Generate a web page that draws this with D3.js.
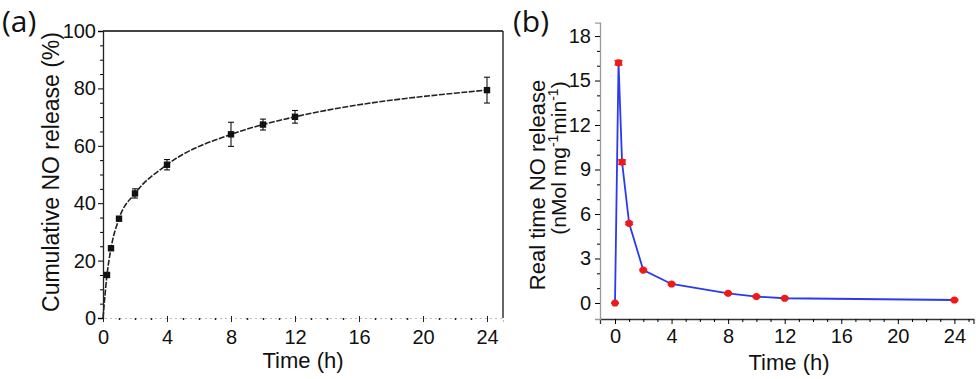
<!DOCTYPE html>
<html>
<head>
<meta charset="utf-8">
<script src="https://cdn.jsdelivr.net/npm/d3@7"></script>
<style>
  body { margin: 0; background: #fff; }
  svg { display: block; }
  text { font-family: "Liberation Sans", Arial, sans-serif; fill: #111; }
  .panel-tag { font-family: "Open Sans", "Noto Sans", sans-serif; font-size: 30px; }
</style>
</head>
<body>
<svg id="chart" width="979" height="379"></svg>
<script>
// panel (a): cumulative release
const timeA = [0, 0.25, 0.5, 1, 2, 4, 8, 10, 12, 24];
const cumRelease = [0, 15, 24.3, 34.6, 43.4, 53.4, 64, 67.4, 70.1, 79.4];
const cumErr = [0, 0.5, 0.5, 0.6, 1.6, 1.8, 4.2, 1.9, 2.2, 4.5];
const ticksA_y = [0, 20, 40, 60, 80, 100];
const ticksA_x = [0, 4, 8, 12, 16, 20, 24];

// panel (b): real time release
const timeB = [0, 0.25, 0.5, 1, 2, 4, 8, 10, 12, 24];
const rtRelease = [0, 16.2, 9.5, 5.37, 2.22, 1.28, 0.65, 0.43, 0.32, 0.2];
const rtErr = [0, 0.15, 0.15, 0.08, 0.05, 0.05, 0.05, 0.05, 0.05, 0.05];
const ticksB_y = [0, 3, 6, 9, 12, 15, 18];
const ticksB_x = [0, 4, 8, 12, 16, 20, 24];

const svg = d3.select("#chart");

// ---------- panel (a) ----------
const xa = d3.scaleLinear().domain([0, 25]).range([103, 503]);
const ya = d3.scaleLinear().domain([0, 100]).range([318, 31]);

const ga = svg.append("g");

// frame top and right
ga.append("line").attr("x1", xa(0)).attr("x2", xa(25)).attr("y1", ya(100)).attr("y2", ya(100))
  .attr("stroke", "#444").attr("stroke-width", 2);
ga.append("line").attr("x1", xa(25)).attr("x2", xa(25)).attr("y1", ya(100)).attr("y2", ya(0))
  .attr("stroke", "#333").attr("stroke-width", 1.5);

// bottom axis (light dotted)
const xAxisA = ga.append("g").attr("transform", `translate(0,${ya(0)})`)
  .call(d3.axisBottom(xa).tickValues(ticksA_x).tickSize(4).tickPadding(8));
xAxisA.select(".domain").attr("stroke", "#bbb").attr("stroke-dasharray", "2,3");
xAxisA.selectAll(".tick line").attr("stroke", "#222").attr("y1", -2);
xAxisA.selectAll("text").style("font-size", "20px").attr("fill", "#111");
const xMinorA = ga.append("g").attr("transform", `translate(0,${ya(0)})`)
  .call(d3.axisBottom(xa).tickValues(d3.range(1, 25).filter(d => d % 4)).tickSize(2).tickFormat(""));
xMinorA.select(".domain").remove();
xMinorA.selectAll(".tick line").attr("stroke", "#222").attr("stroke-width", 1.5);

// left axis
const yAxisA = ga.append("g").attr("transform", `translate(${xa(0)},0)`)
  .call(d3.axisLeft(ya).tickValues(ticksA_y).tickSize(5).tickPadding(2));
yAxisA.select(".domain").attr("stroke", "#222").attr("stroke-width", 1.3);
yAxisA.selectAll("text").style("font-size", "20px").attr("fill", "#111");
const yMinorA = ga.append("g").attr("transform", `translate(${xa(0)},0)`)
  .call(d3.axisLeft(ya).tickValues(d3.range(5, 100, 5).filter(d => d % 20)).tickSize(3).tickFormat(""));
yMinorA.select(".domain").remove();

// curve
const lineA = d3.line().x(d => xa(d[0])).y(d => ya(d[1])).curve(d3.curveMonotoneX);
ga.append("path").datum(timeA.map((t, i) => [t, cumRelease[i]]))
  .attr("d", lineA).attr("fill", "none").attr("stroke", "#222")
  .attr("stroke-width", 1.6).attr("stroke-dasharray", "6,1.5");

// error bars + markers (skip origin)
const ptsA = timeA.map((t, i) => ({ t, v: cumRelease[i], e: cumErr[i] })).filter(d => d.t > 0);
const eb = ga.append("g").attr("stroke", "#111").attr("stroke-width", 1.1);
ptsA.forEach(d => {
  eb.append("line").attr("x1", xa(d.t)).attr("x2", xa(d.t)).attr("y1", ya(d.v - d.e)).attr("y2", ya(d.v + d.e));
  [d.v - d.e, d.v + d.e].forEach(v => eb.append("line")
    .attr("x1", xa(d.t) - 3).attr("x2", xa(d.t) + 3).attr("y1", ya(v)).attr("y2", ya(v)));
});
ga.selectAll(".sq").data(ptsA).enter().append("rect")
  .attr("x", d => xa(d.t) - 3.2).attr("y", d => ya(d.v) - 3.2)
  .attr("width", 6.4).attr("height", 6.4).attr("fill", "#111");

// labels
ga.append("text").attr("transform", "translate(59,172) rotate(-90)")
  .attr("text-anchor", "middle").style("font-size", "23px").text("Cumulative NO release (%)");
ga.append("text").attr("x", 303).attr("y", 368).attr("text-anchor", "middle")
  .style("font-size", "22px").text("Time (h)");
ga.append("text").attr("class", "panel-tag").attr("x", 2).attr("y", 32).text("(a)");

// ---------- panel (b) ----------
const xb = d3.scaleLinear().domain([-1.06, 25.35]).range([600, 973.5]);
const yb = d3.scaleLinear().domain([-1.08, 18.9]).range([319, 22.7]);

const gb = svg.append("g");

const xAxisB = gb.append("g").attr("transform", `translate(0,${yb(-1.08)})`)
  .call(d3.axisBottom(xb).tickValues(ticksB_x).tickSize(5).tickPadding(5));
xAxisB.select(".domain").attr("stroke", "#333").attr("stroke-width", 1.3);
xAxisB.selectAll("text").style("font-size", "20px").attr("fill", "#111");
const xMinorB = gb.append("g").attr("transform", `translate(0,${yb(-1.08)})`)
  .call(d3.axisBottom(xb).tickValues(d3.range(1, 26).filter(d => d % 4)).tickSize(3).tickFormat(""));
xMinorB.select(".domain").remove();

const yAxisB = gb.append("g").attr("transform", `translate(${xb(-1.06)},0)`)
  .call(d3.axisLeft(yb).tickValues(ticksB_y).tickSize(5).tickPadding(4));
yAxisB.select(".domain").attr("stroke", "#999").attr("stroke-width", 1.3);
yAxisB.selectAll("text").style("font-size", "20px").attr("fill", "#111");
const yMinorB = gb.append("g").attr("transform", `translate(${xb(-1.06)},0)`)
  .call(d3.axisLeft(yb).tickValues(d3.range(1, 19).filter(d => d % 3)).tickSize(3).tickFormat(""));
yMinorB.select(".domain").remove();

const lineB = d3.line().x(d => xb(d[0])).y(d => yb(d[1]));
gb.append("path").datum(timeB.map((t, i) => [t, rtRelease[i]]))
  .attr("d", lineB).attr("fill", "none").attr("stroke", "#2a3af0").attr("stroke-width", 1.8);

const ptsB = timeB.map((t, i) => ({ t, v: rtRelease[i], e: rtErr[i] }));
const ebB = gb.append("g").attr("stroke", "#f01818").attr("stroke-width", 1.4);
ptsB.forEach(d => {
  ebB.append("line").attr("x1", xb(d.t)).attr("x2", xb(d.t)).attr("y1", yb(d.v - d.e)).attr("y2", yb(d.v + d.e));
  [d.v - d.e, d.v + d.e].forEach(v => ebB.append("line")
    .attr("x1", xb(d.t) - 4).attr("x2", xb(d.t) + 4).attr("y1", yb(v)).attr("y2", yb(v)));
});
gb.selectAll(".dot").data(ptsB).enter().append("circle")
  .attr("cx", d => xb(d.t)).attr("cy", d => yb(d.v)).attr("r", 3.6).attr("fill", "#f01818");

gb.append("text").attr("transform", "translate(545,185) rotate(-90)")
  .attr("text-anchor", "middle").style("font-size", "22px").text("Real time NO release");
const yl2 = gb.append("text").attr("transform", "translate(566,158) rotate(-90)")
  .attr("text-anchor", "middle").style("font-size", "21px");
yl2.append("tspan").text("(nMol mg");
yl2.append("tspan").attr("dy", -8).style("font-size", "14px").text("-1");
yl2.append("tspan").attr("dy", 8).text("min");
yl2.append("tspan").attr("dy", -8).style("font-size", "14px").text("-1");
yl2.append("tspan").attr("dy", 8).text(")");
gb.append("text").attr("x", 789).attr("y", 370).attr("text-anchor", "middle")
  .style("font-size", "22px").text("Time (h)");
gb.append("text").attr("class", "panel-tag").attr("x", 513).attr("y", 32).text("(b)");
</script>
</body>
</html>
